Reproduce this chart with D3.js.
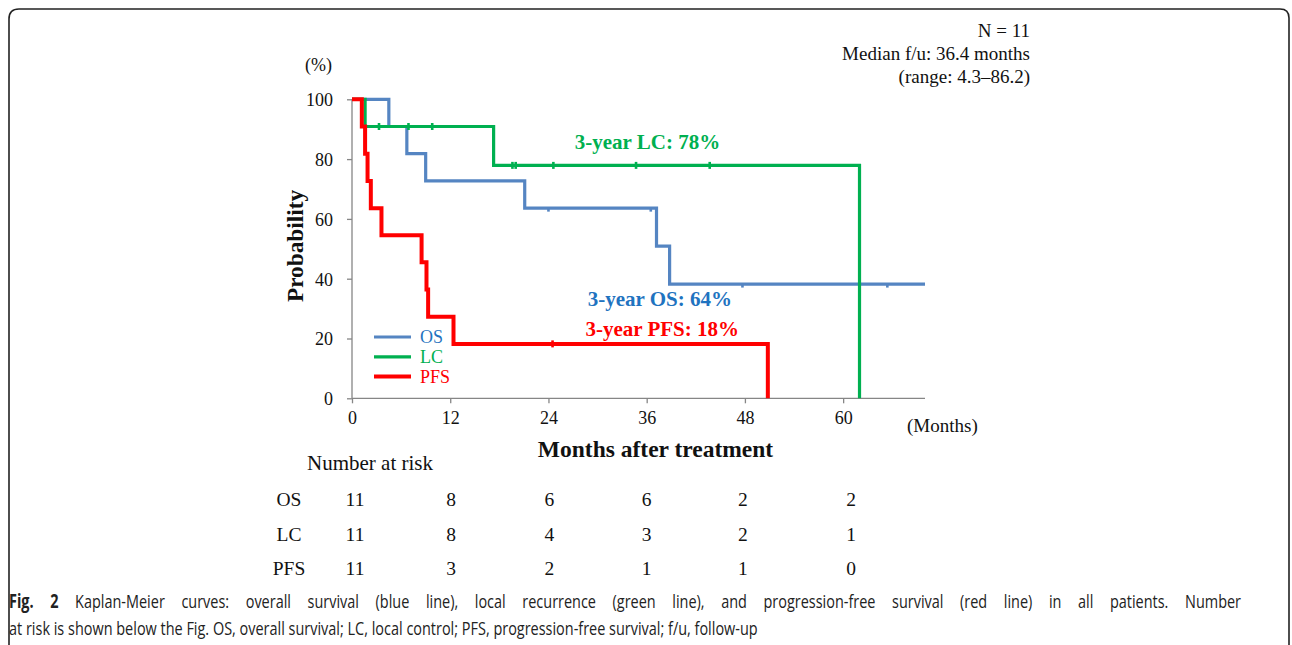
<!DOCTYPE html>
<html><head><meta charset="utf-8">
<script src="https://cdn.jsdelivr.net/npm/d3@7"></script>
<style>body{margin:0;background:#fff}svg{display:block}</style>
</head><body>
<svg id="c" width="1292" height="645"></svg>
<script>
// ---- data ----
const seriesNames = ["OS", "LC", "PFS"];
// Kaplan-Meier steps: [month, survival %]
const osSteps = [[0,100],[4.5,90.9],[6.7,81.8],[9.0,72.7],[21.1,63.6],[37.2,50.9],[38.8,38.2],[70,38.2]];
const lcSteps = [[0,100],[1.6,90.9],[17.3,77.9],[62.0,0]];
const pfsSteps = [[0,100],[1.2,90.9],[1.6,81.8],[1.9,72.7],[2.3,63.6],[3.6,54.5],[8.5,45.5],[9.1,36.4],[9.3,27.3],[12.4,18.2],[50.8,0]];
const osCensor = [24.0, 36.5, 47.7, 65.4];
const lcCensor = [3.3, 6.9, 9.8, 19.6, 20.0, 24.6, 34.7, 43.7];
const pfsCensor = [24.5];
const xTicks = [0, 12, 24, 36, 48, 60];
const yTicks = [0, 20, 40, 60, 80, 100];
const riskOS = [11, 8, 6, 6, 2, 2];
const riskLC = [11, 8, 4, 3, 2, 1];
const riskPFS = [11, 3, 2, 1, 1, 0];
const annotations = [
  {name:"LC", text:"3-year LC: 78%", month:36.1},
  {name:"OS", text:"3-year OS: 64%", month:37.6},
  {name:"PFS", text:"3-year PFS: 18%", month:37.9}
];
const infoLines = ["N = 11", "Median f/u: 36.4 months", "(range: 4.3–86.2)"];
const captionBold = "Fig. 2";
const captionLine1 = " Kaplan-Meier curves: overall survival (blue line), local recurrence (green line), and progression-free survival (red line) in all patients. Number";
const captionLine2 = "at risk is shown below the Fig. OS, overall survival; LC, local control; PFS, progression-free survival; f/u, follow-up";

// ---- drawing ----
const svg = d3.select("#c");
const serif = "'Liberation Serif','Times New Roman',serif";
const lineColor = {OS:"#5585C2", LC:"#00B050", PFS:"#FF0000"};
const textColor = {OS:"#1F73C0", LC:"#00B050", PFS:"#FF0000"};
const lineWidth = {OS:3.2, LC:3.2, PFS:4};

// frame
svg.append("path")
  .attr("d", "M9,660 L9,19 Q9,9 19,9 L1280,9 Q1289,9 1289,18 L1289,660")
  .attr("fill","none").attr("stroke","#222").attr("stroke-width",1.6);

const x = d3.scaleLinear().domain([0,70]).range([352,925]);
const y = d3.scaleLinear().domain([0,100]).range([398.3,99.3]);

// axes
const axisColor = "#868686";
const gy = svg.append("g").attr("transform","translate(352,0)")
  .call(d3.axisLeft(y).tickValues(yTicks).tickSize(5).tickPadding(14));
const gx = svg.append("g").attr("transform","translate(0,398.3)")
  .call(d3.axisBottom(x).tickValues(xTicks).tickSize(5).tickPadding(8));
[gx, gy].forEach(g => {
  g.select(".domain").attr("stroke",axisColor).attr("stroke-width",1.3);
  g.selectAll(".tick line").attr("stroke",axisColor).attr("stroke-width",1.3);
  g.selectAll(".tick text").attr("font-family",serif).attr("font-size",18).attr("fill","#111");
});
gy.select(".domain").attr("d","M0,398.3V99.3");
gx.select(".domain").attr("d","M352,0H925");
gx.selectAll(".tick text").attr("y",26).attr("dy",0);
gy.selectAll(".tick text").attr("dy","0.36em");

// curves
const stepLine = d3.line().x(d=>x(d[0])).y(d=>y(d[1])).curve(d3.curveStepAfter);
const steps = {OS:osSteps, LC:lcSteps, PFS:pfsSteps};
const censors = {OS:osCensor, LC:lcCensor, PFS:pfsCensor};
function valueAt(st, t){ let v = st[0][1]; for (const s of st) if (s[0] <= t) v = s[1]; return v; }
["OS","LC","PFS"].forEach(n => {
  svg.append("path").datum(steps[n]).attr("d", stepLine)
    .attr("fill","none").attr("stroke",lineColor[n]).attr("stroke-width",lineWidth[n])
    .attr("stroke-linejoin","miter");
  svg.selectAll(null).data(censors[n]).enter().append("line")
    .attr("x1",t=>x(t)).attr("x2",t=>x(t))
    .attr("y1",t=>y(valueAt(steps[n],t))-(n==="OS"?0:3.5))
    .attr("y2",t=>y(valueAt(steps[n],t))+3.5)
    .attr("stroke",lineColor[n]).attr("stroke-width",2.6);
});

// annotations
annotations.forEach(a => {
  svg.append("text").attr("x",x(a.month)).attr("y", a.name==="LC"?149:(a.name==="OS"?305.5:336))
    .attr("text-anchor","middle").attr("font-family",serif).attr("font-weight","bold")
    .attr("font-size",21).attr("fill",textColor[a.name]).text(a.text);
});

// legend
seriesNames.forEach((n,i) => {
  const ly = 337 + i*19.8;
  svg.append("line").attr("x1",374).attr("x2",411).attr("y1",ly).attr("y2",ly)
    .attr("stroke",lineColor[n]).attr("stroke-width",lineWidth[n]);
  svg.append("text").attr("x",420).attr("y",ly+6).attr("font-family",serif)
    .attr("font-size",18).attr("fill",textColor[n]).text(n);
});

// axis titles
svg.append("text").attr("transform","translate(303,246) rotate(-90)").attr("text-anchor","middle")
  .attr("font-family",serif).attr("font-weight","bold").attr("font-size",23.3).attr("fill","#111").text("Probability");
svg.append("text").attr("x",305).attr("y",71).attr("font-family",serif).attr("font-size",18).attr("fill","#111").text("(%)");
svg.append("text").attr("x",907).attr("y",432).attr("font-family",serif).attr("font-size",19).attr("fill","#111").text("(Months)");
svg.append("text").attr("x",655.5).attr("y",457).attr("text-anchor","middle").attr("font-family",serif)
  .attr("font-weight","bold").attr("font-size",23.5).attr("fill","#111").text("Months after treatment");

// info text
infoLines.forEach((t,i) => {
  svg.append("text").attr("x",1030).attr("y",37+i*23).attr("text-anchor","end")
    .attr("font-family",serif).attr("font-size",19).attr("fill","#111").text(t);
});

// risk table
svg.append("text").attr("x",307).attr("y",470).attr("font-family",serif).attr("font-size",21).attr("fill","#111").text("Number at risk");
const risk = {OS:riskOS, LC:riskLC, PFS:riskPFS};
const colShift = [3, 1, 1, 0, -2, 8];
seriesNames.forEach((n,i) => {
  const ry = 506 + i*34.7;
  svg.append("text").attr("x",289).attr("y",ry).attr("text-anchor","middle").attr("font-family",serif)
    .attr("font-size",19.5).attr("fill","#111").text(n);
  svg.selectAll(null).data(risk[n]).enter().append("text")
    .attr("x",(d,j)=>x(xTicks[j])+colShift[j]).attr("y",ry).attr("text-anchor","middle")
    .attr("font-family",serif).attr("font-size",19.5).attr("fill","#111").text(d=>d);
});

// caption (condensed sans, justified first line via word spacing)
const capFont = "'Open Sans','Noto Sans',sans-serif";
const capSize = 19;
const g2 = svg.append("g");
const t2 = g2.append("text").attr("font-family",capFont).attr("font-size",capSize).attr("fill","#222").text(captionLine2);
const w2 = t2.node().getComputedTextLength();
const sx = 749 / w2;
g2.attr("transform",`translate(9,635) scale(${sx},1)`);
const g1 = svg.append("g").attr("transform",`translate(9,608) scale(${sx},1)`);
const t1 = g1.append("text").attr("font-family",capFont).attr("font-size",capSize).attr("fill","#222");
t1.append("tspan").attr("font-weight","bold").text(captionBold);
t1.append("tspan").text(captionLine1);
const w1 = t1.node().getComputedTextLength();
const nSpaces = (captionBold + captionLine1).split(" ").length - 1;
const extra = (1232 / sx - w1) / nSpaces;
t1.attr("word-spacing", extra);
</script>
</body></html>
